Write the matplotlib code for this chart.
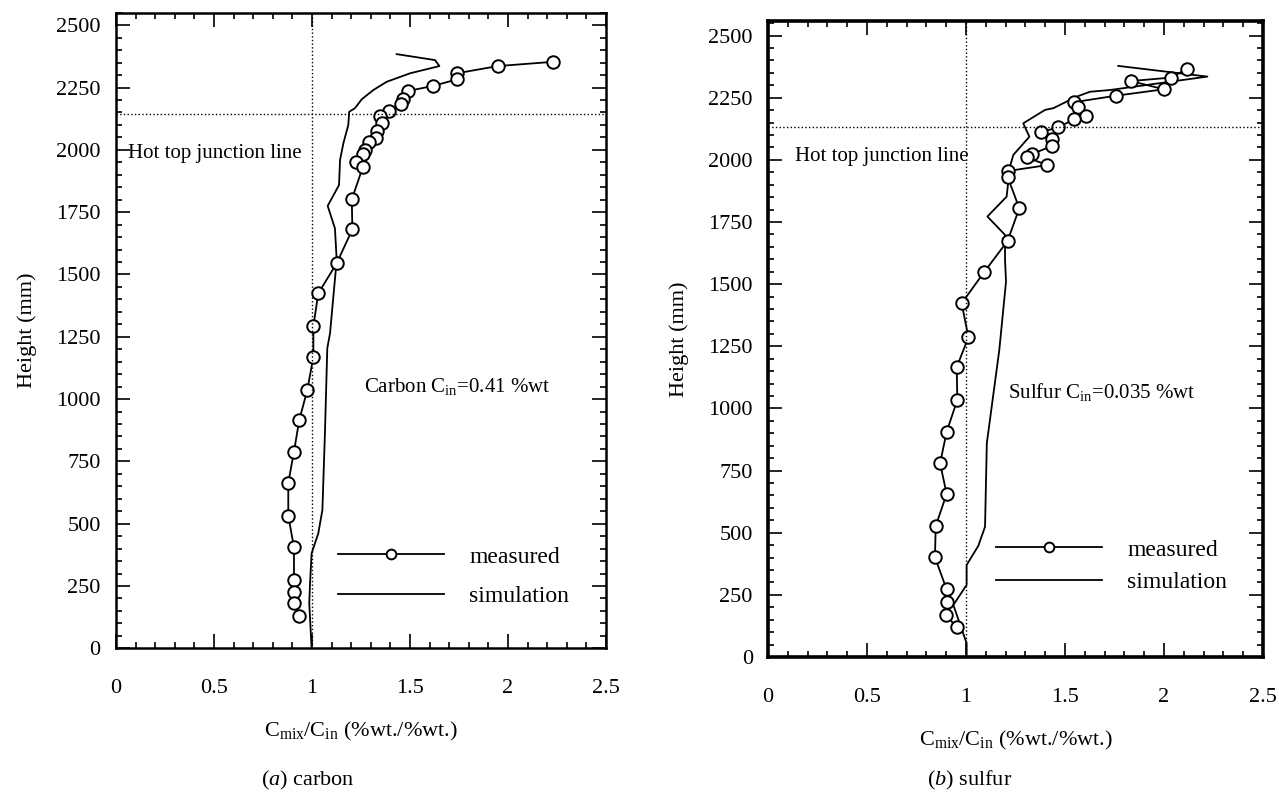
import matplotlib
matplotlib.use('Agg')
import matplotlib.pyplot as plt
from matplotlib.ticker import MultipleLocator
from matplotlib.lines import Line2D

plt.rcParams['font.family'] = ['Liberation Serif', 'DejaVu Serif']
plt.rcParams['mathtext.fontset'] = 'custom'
plt.rcParams['mathtext.rm'] = 'Liberation Serif'
plt.rcParams['mathtext.it'] = 'Liberation Serif:italic'

# carbon: measured
c_meas_x = [2.228, 1.947, 1.738, 1.741, 1.616, 1.488, 1.463, 1.453, 1.394, 1.347, 1.355, 1.330,
            1.325, 1.292, 1.270, 1.259, 1.224, 1.259, 1.203, 1.206, 1.126, 1.032, 1.007, 1.007,
            0.976, 0.935, 0.908, 0.879, 0.879, 0.908, 0.908, 0.908, 0.908, 0.935]
c_meas_y = [2353, 2336, 2307, 2283, 2256, 2236, 2203, 2183, 2156, 2136, 2106, 2077,
            2046, 2033, 1999, 1983, 1952, 1930, 1801, 1681, 1545, 1424, 1293, 1170,
            1036, 916, 789, 664, 532, 405, 274, 227, 181, 130]
# carbon: simulation
c_sim_x = [1.432, 1.628, 1.650, 1.500, 1.381, 1.313, 1.254, 1.219, 1.190, 1.185, 1.160, 1.143,
           1.138, 1.080, 1.117, 1.126, 1.092, 1.078, 1.066, 1.053, 1.032, 0.998, 0.990, 0.986, 0.998]
c_sim_y = [2384, 2360, 2336, 2307, 2273, 2240, 2203, 2167, 2153, 2099, 2026, 1959,
           1859, 1775, 1685, 1558, 1264, 1204, 863, 555, 461, 381, 261, 181, 0]

# sulfur: measured
s_meas_x = [2.115, 2.034, 1.832, 2.000, 1.756, 1.545, 1.567, 1.604, 1.545, 1.466, 1.377, 1.436,
            1.436, 1.334, 1.306, 1.411, 1.210, 1.210, 1.269, 1.210, 1.093, 0.978, 1.012, 0.953,
            0.956, 0.902, 0.869, 0.902, 0.847, 0.843, 0.902, 0.902, 0.899, 0.953]
s_meas_y = [2365, 2331, 2317, 2284, 2258, 2232, 2212, 2178, 2163, 2131, 2111, 2083,
            2056, 2024, 2010, 1979, 1955, 1932, 1805, 1674, 1550, 1423, 1286, 1166,
            1034, 906, 779, 656, 527, 401, 272, 223, 169, 119]
# sulfur: simulation
s_sim_x = [1.769, 2.219, 1.727, 1.626, 1.551, 1.492, 1.441, 1.399, 1.289, 1.320, 1.239, 1.222,
           1.205, 1.108, 1.197, 1.197, 1.202, 1.168, 1.105, 1.096, 1.062, 1.003, 1.003, 0.936,
           1.003, 1.003]
s_sim_y = [2378, 2335, 2281, 2274, 2252, 2228, 2208, 2201, 2147, 2093, 2020, 1973,
           1852, 1772, 1698, 1597, 1510, 1235, 860, 524, 447, 370, 290, 209, 55, 0]

junction = [2144, 2134]
notes = [r'Carbon C$_{\mathrm{in}}$=0.41 %wt', r'Sulfur C$_{\mathrm{in}}$=0.035 %wt']
captions = ['carbon', 'sulfur']

fig = plt.figure(figsize=(12.79, 7.92), dpi=100)
ax1 = fig.add_axes([0.0907, 0.1814, 0.3831, 0.8025])
ax2 = fig.add_axes([0.6005, 0.1705, 0.3870, 0.8034])

panels = [
    (ax1, c_meas_x, c_meas_y, c_sim_x, c_sim_y, 2550, (0.06, 1987), (1.267, 1050), (0.453, 0.113), 0.75, 1.8),
    (ax2, s_meas_x, s_meas_y, s_sim_x, s_sim_y, 2560, (0.136, 2013), (1.214, 1067), (0.461, 0.143), 0.45, 2.6),
]

for i, (ax, mx, my, sx, sy, ytop, hot, note, leg, lsp, spw) in enumerate(panels):
    ax.plot(sx, sy, color='black', lw=1.3)
    ax.plot(mx, my, color='black', lw=1.3, marker='o', ms=9, mfc='white', mec='black', mew=1.4)
    ax.axvline(1.0, color='black', ls=':', lw=1.0)
    ax.axhline(junction[i], color='black', ls=':', lw=1.0)
    ax.set_xlim(0, 2.5)
    ax.set_ylim(0, ytop)
    ax.xaxis.set_major_locator(MultipleLocator(0.5))
    ax.xaxis.set_minor_locator(MultipleLocator(0.1))
    ax.yaxis.set_major_locator(MultipleLocator(250))
    ax.yaxis.set_minor_locator(MultipleLocator(50))
    ax.set_xticks([0, 0.5, 1, 1.5, 2, 2.5])
    ax.set_xticklabels(['0', '0.5', '1', '1.5', '2', '2.5'])
    ax.tick_params(which='both', direction='in', top=True, right=True, width=1.2)
    ax.tick_params(which='major', length=10, labelsize=16)
    ax.tick_params(which='minor', length=4.5)
    ax.tick_params(axis='x', which='major', pad=22)
    ax.tick_params(axis='y', which='major', pad=11)
    for s in ax.spines.values():
        s.set_linewidth(spw)
    ax.set_ylabel('Height (mm)', fontsize=16, labelpad=14)
    ax.set_xlabel(r'C$_{\mathrm{mix}}$/C$_{\mathrm{in}}$ (%wt./%wt.)', fontsize=16, labelpad=16)
    ax.text(hot[0], hot[1], 'Hot top junction line', fontsize=15, va='center', ha='left')
    ax.text(note[0], note[1], notes[i], fontsize=15, va='center', ha='left')
    handles = [
        Line2D([], [], color='black', lw=1.3, marker='o', ms=7, mfc='white', mec='black', mew=1.4),
        Line2D([], [], color='black', lw=1.3),
    ]
    ax.legend(handles, ['measured', 'simulation'], loc='center left', bbox_to_anchor=leg,
              frameon=False, fontsize=17, handlelength=4.5, handletextpad=1.05,
              labelspacing=lsp, borderpad=0, borderaxespad=0, numpoints=1)

fig.text(0.241, 0.015, r'$\mathit{(a)}$ ' + captions[0], fontsize=16, ha='center', va='center')
fig.text(0.758, 0.015, r'$\mathit{(b)}$ ' + captions[1], fontsize=16, ha='center', va='center')

fig.savefig('out.png', dpi=100)
